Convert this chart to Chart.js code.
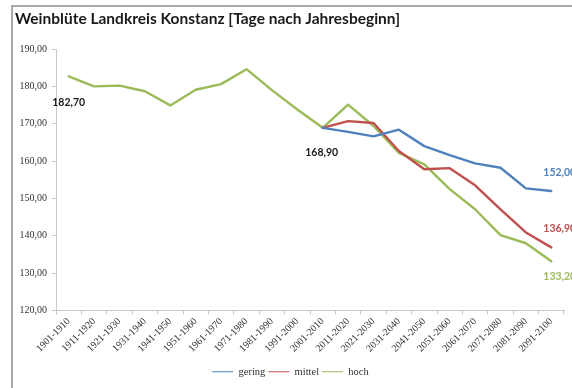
<!DOCTYPE html>
<html>
<head>
<meta charset="utf-8">
<script src="https://cdn.jsdelivr.net/npm/chart.js@4"></script>
<style>
  html, body { margin: 0; padding: 0; background: #fff; }
  #wrap { position: relative; width: 572px; height: 388px; }
  #rahmen {
    position: absolute; left: 11px; top: 5px; right: 0; bottom: 0;
    border-left: 2px solid #a8a8a8; border-top: 2px solid #a8a8a8;
  }
  #grafico { position: absolute; left: 0; top: 0; }
</style>
</head>
<body>
<div id="wrap">
  <div id="rahmen"></div>
  <canvas id="grafico" width="572" height="388"></canvas>
</div>
<script>
const titel = 'Weinblüte Landkreis Konstanz [Tage nach Jahresbeginn]';

const zeitraeume = [
  '1901-1910', '1911-1920', '1921-1930', '1931-1940', '1941-1950',
  '1951-1960', '1961-1970', '1971-1980', '1981-1990', '1991-2000',
  '2001-2010', '2011-2020', '2021-2030', '2031-2040', '2041-2050',
  '2051-2060', '2061-2070', '2071-2080', '2081-2090', '2091-2100'
];

// Szenarien ab 2001-2010, davor nur Messwerte (in "hoch")
const gering = [null, null, null, null, null, null, null, null, null, null,
  168.9, 167.8, 166.6, 168.4, 164.0, 161.6, 159.4, 158.2, 152.7, 152.0];
const mittel = [null, null, null, null, null, null, null, null, null, null,
  168.9, 170.7, 170.2, 162.7, 157.8, 158.1, 153.5, 147.1, 140.9, 136.9];
const hoch = [182.7, 180.0, 180.2, 178.7, 174.9, 179.1, 180.6, 184.6, 179.0, 173.8,
  168.9, 175.1, 169.4, 162.2, 159.1, 152.5, 147.1, 140.2, 138.0, 133.2];

const yTicks = [120, 130, 140, 150, 160, 170, 180, 190];

const fmt = v => v.toLocaleString('de-DE', { minimumFractionDigits: 2, maximumFractionDigits: 2 });

// Beschriftungen: [Datensatz, Index, dx, dy, Farbe, Ausrichtung]
const beschriftungen = [
  [2, 0, 0, 26, '#1a1a1a', 'center'],
  [2, 10, -1, 25, '#1a1a1a', 'center'],
  [0, 19, -8, -18, '#4f81bd', 'left'],
  [1, 19, -8, -19, '#c0504d', 'left'],
  [2, 19, -8, 15, '#9bbb59', 'left']
];

const titelPlugin = {
  id: 'titel',
  afterDraw(chart) {
    const ctx = chart.ctx;
    ctx.save();
    ctx.font = 'bold 15.5px Lato, "Open Sans", sans-serif';
    ctx.fillStyle = '#1a1a1a';
    ctx.textBaseline = 'alphabetic';
    ctx.fillText(titel, 15, 24);
    ctx.restore();
  }
};

const wertePlugin = {
  id: 'werte',
  afterDatasetsDraw(chart) {
    const ctx = chart.ctx;
    ctx.save();
    ctx.font = 'bold 10.5px Lato, "Open Sans", sans-serif';
    ctx.textBaseline = 'middle';
    beschriftungen.forEach(([ds, i, dx, dy, farbe, align]) => {
      const pt = chart.getDatasetMeta(ds).data[i];
      const wert = chart.data.datasets[ds].data[i];
      ctx.fillStyle = farbe;
      ctx.textAlign = align;
      ctx.fillText(fmt(wert), pt.x + dx, pt.y + dy);
    });
    ctx.restore();
  }
};

const serif = { family: '"Liberation Serif", "DejaVu Serif", serif', size: 10 };

new Chart(document.getElementById('grafico'), {
  type: 'line',
  data: {
    labels: zeitraeume,
    datasets: [
      { label: 'gering', data: gering, borderColor: '#4f81bd', backgroundColor: '#4f81bd' },
      { label: 'mittel', data: mittel, borderColor: '#c0504d', backgroundColor: '#c0504d' },
      { label: 'hoch', data: hoch, borderColor: '#9bbb59', backgroundColor: '#9bbb59' }
    ]
  },
  options: {
    responsive: false,
    animation: false,
    devicePixelRatio: 1,
    layout: { padding: { top: 49, left: 17, right: 8, bottom: 1 } },
    elements: {
      line: { borderWidth: 2.4, tension: 0, borderCapStyle: 'round', borderJoinStyle: 'round' },
      point: { radius: 0, hoverRadius: 0 }
    },
    plugins: {
      tooltip: { enabled: false },
      title: { display: false },
      legend: {
        position: 'bottom',
        labels: {
          usePointStyle: true,
          pointStyle: 'line',
          pointStyleWidth: 21,
          boxHeight: 10,
          padding: 3,
          color: '#333',
          font: { family: serif.family, size: 10.5 }
        }
      }
    },
    scales: {
      x: {
        offset: true,
        afterFit(scale) { scale.height = 53; },
        grid: {
          offset: true,
          drawOnChartArea: false,
          drawTicks: true,
          tickLength: 4,
          color: '#c8c8c8'
        },
        border: { color: '#c8c8c8', width: 1 },
        ticks: {
          maxRotation: 45,
          minRotation: 45,
          autoSkip: false,
          padding: 1,
          color: '#333',
          font: serif
        }
      },
      y: {
        min: 120,
        max: 190,
        afterFit(scale) { scale.width = 39; },
        afterBuildTicks(scale) { scale.ticks = yTicks.map(v => ({ value: v })); },
        grid: {
          drawOnChartArea: false,
          drawTicks: true,
          tickLength: 4,
          color: '#c8c8c8'
        },
        border: { color: '#c8c8c8', width: 1 },
        ticks: {
          padding: 5,
          color: '#333',
          font: serif,
          callback: v => fmt(v)
        }
      }
    }
  },
  plugins: [titelPlugin, wertePlugin]
});
</script>
</body>
</html>
